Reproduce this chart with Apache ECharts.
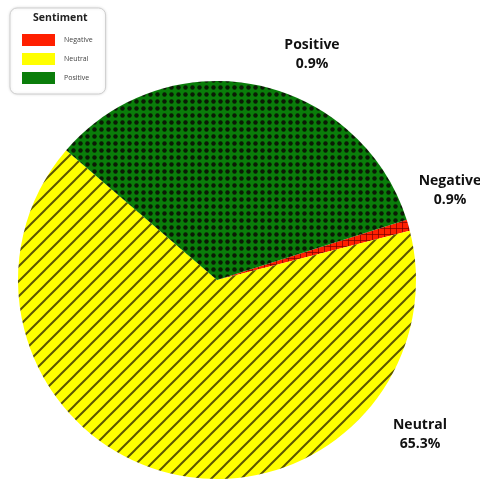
<!DOCTYPE html>
<html>
<head>
<meta charset="utf-8">
<script src="https://cdn.jsdelivr.net/npm/echarts@6/dist/echarts.min.js"></script>
<style>
html,body{margin:0;padding:0;background:#fff;}
#chart{width:480px;height:483px;}
</style>
</head>
<body>
<div id="chart"></div>
<script>
// ---- data ----
const categories = ['Negative', 'Neutral', 'Positive'];
const values = [0.9, 65.3, 33.8];            // slice sizes
const shownLabels = ['0.9%', '65.3%', '0.9%']; // percentages as printed in the reference
const legendTitle = 'Sentiment';

// ---- styles ----
const baseColors = ['#ff1f00', '#ffff00', '#0a7d0a'];
const labelPos = [[450, 191], [420, 435], [312, 55]];

function makeTile(w, h, bg, draw) {
  const c = document.createElement('canvas');
  c.width = w; c.height = h;
  const ctx = c.getContext('2d');
  ctx.fillStyle = bg; ctx.fillRect(0, 0, w, h);
  draw(ctx, w, h);
  return c;
}
const redTile = makeTile(6, 6, baseColors[0], (ctx, w, h) => {
  ctx.strokeStyle = 'rgba(120,0,0,0.7)'; ctx.lineWidth = 1;
  ctx.beginPath(); ctx.moveTo(0, 0.5); ctx.lineTo(w, 0.5); ctx.moveTo(0.5, 0); ctx.lineTo(0.5, h); ctx.stroke();
});
const yellowTile = makeTile(15, 15, baseColors[1], (ctx, w, h) => {
  ctx.strokeStyle = '#5c5600'; ctx.lineWidth = 2;
  ctx.beginPath();
  ctx.moveTo(0, h); ctx.lineTo(w, 0);
  ctx.moveTo(-2, 2); ctx.lineTo(2, -2);
  ctx.moveTo(w - 2, h + 2); ctx.lineTo(w + 2, h - 2);
  ctx.stroke();
});
const greenTile = makeTile(7, 7, baseColors[2], (ctx, w, h) => {
  ctx.fillStyle = '#0b1a05';
  ctx.beginPath(); ctx.arc(3.5, 3.5, 2.2, 0, Math.PI * 2); ctx.fill();
});
const tiles = [redTile, yellowTile, greenTile];

const chart = echarts.init(document.getElementById('chart'), null, { renderer: 'canvas' });
const fontFam = '"Open Sans", "Noto Sans", sans-serif';

chart.setOption({
  animation: false,
  backgroundColor: '#ffffff',
  title: {
    text: legendTitle,
    left: 28, top: 8,
    textStyle: { fontFamily: fontFam, fontSize: 10.5, fontWeight: 'bold', color: '#222' }
  },
  legend: {
    orient: 'vertical',
    left: 10, top: 8,
    padding: [26, 13, 10, 12],
    backgroundColor: '#ffffff',
    borderColor: '#cfcfcf', borderWidth: 1, borderRadius: 7,
    shadowColor: 'rgba(0,0,0,0.12)', shadowBlur: 3,
    itemWidth: 33, itemHeight: 12, itemGap: 7,
    icon: 'rect',
    selectedMode: false,
    textStyle: { fontFamily: fontFam, fontSize: 7, color: '#444', padding: [0, 0, 0, 4] },
    data: categories.map((n, i) => ({ name: n, itemStyle: { color: baseColors[i] } }))
  },
  series: [{
    type: 'pie',
    center: [217, 280],
    radius: 199,
    startAngle: 17.6,
    clockwise: true,
    avoidLabelOverlap: false,
    label: {
      show: true,
      position: 'outside',
      formatter: p => p.name + '\n' + shownLabels[p.dataIndex],
      fontFamily: fontFam, fontSize: 14, fontWeight: 'bold', color: '#111',
      lineHeight: 19, align: 'center'
    },
    labelLine: { show: false },
    labelLayout: p => ({ x: labelPos[p.dataIndex][0], y: labelPos[p.dataIndex][1], align: 'center', verticalAlign: 'middle' }),
    itemStyle: { borderWidth: 0 },
    emphasis: { disabled: true },
    data: categories.map((n, i) => ({
      name: n, value: values[i],
      itemStyle: { color: { image: tiles[i], repeat: 'repeat' } }
    }))
  }]
});
</script>
</body>
</html>
